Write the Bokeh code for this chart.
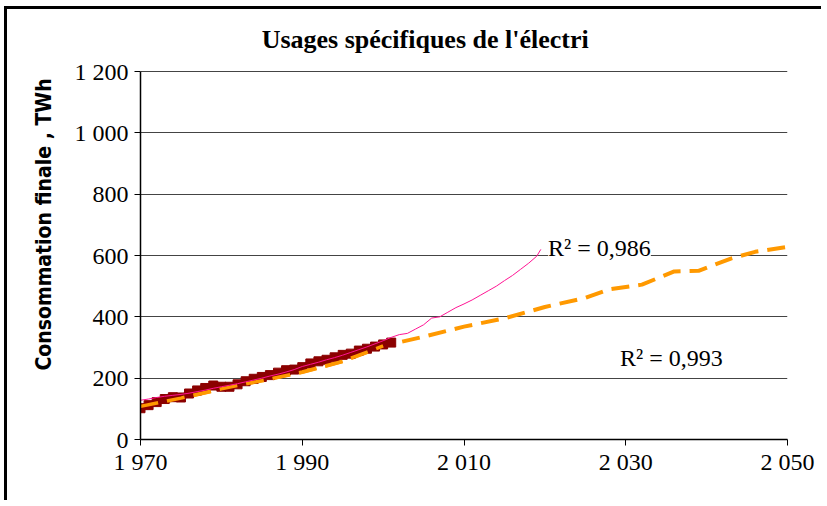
from bokeh.plotting import figure
from bokeh.models import Label, FixedTicker
from bokeh.embed import file_html
from bokeh.resources import INLINE

# ---- data ----
hist_years = [1970, 1971, 1972, 1973, 1974, 1975, 1976, 1977, 1978, 1979, 1980,
              1981, 1982, 1983, 1984, 1985, 1986, 1987, 1988, 1989, 1990,
              1991, 1992, 1993, 1994, 1995, 1996, 1997, 1998, 1999, 2000, 2001]
hist_values = [102, 112, 122, 132, 138, 137, 150, 160, 168, 176, 172,
               172, 180, 190, 198, 204, 210, 218, 226, 228, 236,
               248, 255, 260, 268, 276, 280, 290, 296, 303, 310, 316]

expo_years = [1970, 1971, 1972, 1973, 1974, 1975, 1976, 1977, 1978, 1979, 1980,
              1981, 1982, 1983, 1984, 1985, 1986, 1987, 1988, 1989, 1990,
              1991, 1992, 1993, 1994, 1995, 1996, 1997, 1998, 1999, 2000,
              2001, 2002, 2003, 2004, 2005, 2006, 2007, 2008, 2009, 2010,
              2011, 2012, 2013, 2014, 2015, 2016, 2017, 2018, 2019, 2019.5]
expo_values = [128, 132, 137, 141, 144, 147, 151, 156, 161, 167, 172,
               177, 182, 188, 194, 200, 207, 213, 220, 228, 238,
               245, 252, 260, 267, 275, 284, 293, 302, 312, 322,
               333, 342, 346, 360, 374, 396, 400, 415, 430, 442,
               455, 470, 485, 500, 518, 535, 555, 575, 598, 620]

lin_years = [1970, 1975, 1980, 1985, 1990, 1995, 2000, 2005, 2010, 2015,
             2020, 2025, 2028, 2032, 2036, 2039, 2043, 2046, 2050]
lin_values = [108, 135, 165, 192, 220, 255, 305, 335, 368, 395,
              432, 462, 490, 505, 548, 550, 590, 612, 628]

x_ticks = [1970, 1990, 2010, 2030, 2050]
x_tick_labels = ["1 970", "1 990", "2 010", "2 030", "2 050"]
y_ticks = [0, 200, 400, 600, 800, 1000, 1200]
y_tick_labels = ["0", "200", "400", "600", "800", "1 000", "1 200"]

title_text = "Usages spécifiques de l'électri"
y_label = "Consommation finale , TWh"
r2_expo = "R² = 0,986"
r2_lin = "R² = 0,993"

SERIF = "Liberation Serif"

# the frame reaches the top of the canvas so the title can sit inside it;
# the y axis line itself stops at the last tick (1 200)
p = figure(width=817, height=494, output_backend="svg", toolbar_location=None,
           x_range=(1970, 2050), y_range=(0, 1402.2),
           min_border_left=133, min_border_right=37, min_border_top=0, min_border_bottom=64)
p.styles = {"border-left": "3px solid black", "border-top": "3px solid black",
            "margin-left": "4px", "margin-top": "6px"}
p.outline_line_color = None
p.background_fill_color = "white"
p.border_fill_color = "white"

p.add_layout(Label(x=2005.2, y=1304, text=title_text, text_font=SERIF,
                   text_font_size="26px", text_font_style="bold", text_color="black",
                   text_align="center", text_baseline="alphabetic"))

# axes
p.xaxis.ticker = FixedTicker(ticks=x_ticks)
p.xaxis.major_label_overrides = dict(zip(x_ticks, x_tick_labels))
p.yaxis.ticker = FixedTicker(ticks=y_ticks)
p.yaxis.major_label_overrides = dict(zip(y_ticks, y_tick_labels))
p.yaxis.bounds = (y_ticks[0], y_ticks[-1])
for ax in (p.xaxis, p.yaxis):
    ax.major_label_text_font = SERIF
    ax.major_label_text_font_size = "24px"
    ax.major_label_text_color = "black"
    ax.axis_line_color = "black"
    ax.axis_line_width = 1.5
    ax.major_tick_line_color = "black"
    ax.major_tick_out = 6
    ax.major_tick_in = 0
    ax.minor_tick_line_color = None
p.xaxis.major_label_standoff = 3
p.yaxis.major_label_standoff = 6
p.yaxis.axis_label = y_label
p.yaxis.axis_label_text_font = "DejaVu Sans Condensed"
p.yaxis.axis_label_text_font_style = "bold"
p.yaxis.axis_label_text_font_size = "21px"
p.yaxis.axis_label_text_color = "black"
p.yaxis.axis_label_standoff = 16

p.xgrid.grid_line_color = None
p.ygrid.grid_line_color = "#444444"
p.ygrid.grid_line_width = 1.2

# series
p.line(lin_years, lin_values, line_color="#FF9900", line_width=4, line_dash="18 9")
p.line(hist_years, hist_values, line_color="#8B0000", line_width=6)
p.scatter(hist_years, hist_values, marker="square", size=9,
          fill_color="#8B0000", line_color="#8B0000")
p.line(lin_years[:7], lin_values[:7], line_color="#FF9900", line_width=3.5, line_dash="18 9")
p.line(expo_years, expo_values, line_color="#FF1493", line_width=1)

p.add_layout(Label(x=2020.4, y=623, text=r2_expo, text_font=SERIF, text_font_size="24px",
                   text_color="black", text_baseline="alphabetic",
                   background_fill_color="white", background_fill_alpha=1.0))
p.add_layout(Label(x=2029.3, y=267, text=r2_lin, text_font=SERIF, text_font_size="24px",
                   text_color="black", text_baseline="alphabetic",
                   background_fill_color="white", background_fill_alpha=1.0))

open("out.html", "w").write(file_html(p, INLINE))
